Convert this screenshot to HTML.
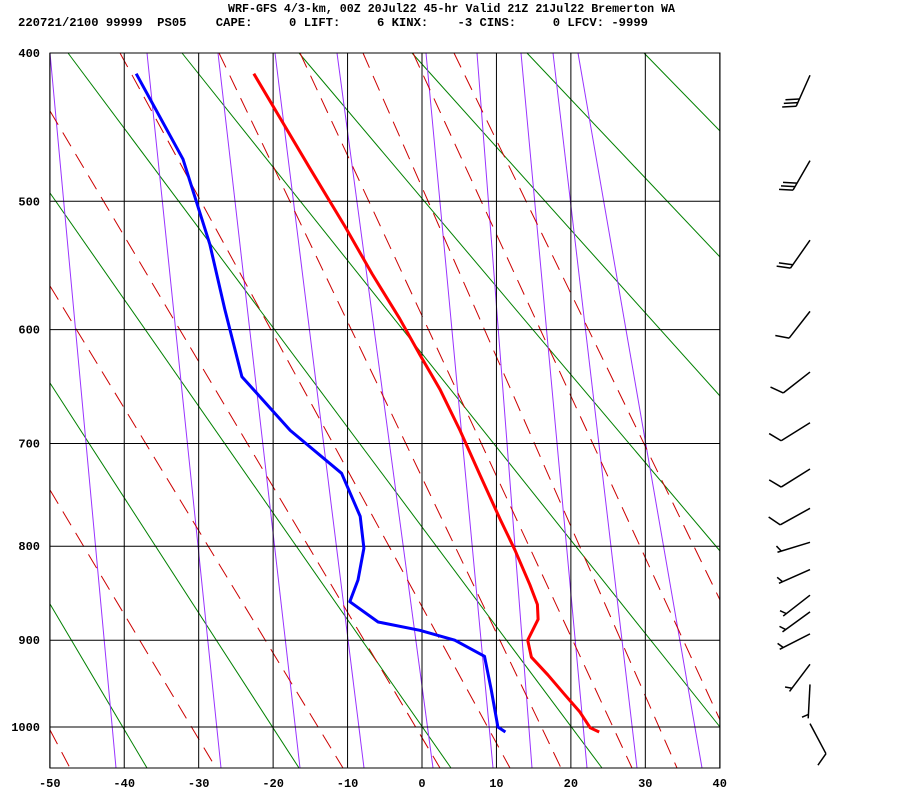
<!DOCTYPE html>
<html><head><meta charset="utf-8"><style>
html,body{margin:0;padding:0;background:#fff;}
svg{display:block;}
text{font-family:"Liberation Mono",monospace;font-weight:bold;}
</style></head><body>
<svg id="chart" width="900" height="800" viewBox="0 0 900 800" xmlns="http://www.w3.org/2000/svg">
<text x="228" y="12" font-size="12" textLength="447" lengthAdjust="spacingAndGlyphs" xml:space="preserve">WRF-GFS 4/3-km, 00Z 20Jul22 45-hr Valid 21Z 21Jul22 Bremerton WA</text>
<text x="18" y="26" font-size="12" textLength="630" lengthAdjust="spacingAndGlyphs" xml:space="preserve">220721/2100 99999  PS05    CAPE:     0 LIFT:     6 KINX:    -3 CINS:     0 LFCV: -9999</text>
<g id="guides"></g>
<g id="grid"></g>
<g id="series"></g>
<g id="winds"></g>
<g id="axes"></g>
</svg>
<script>
const pressureTicks = [400,500,600,700,800,900,1000];
const tempTicks = [-50,-40,-30,-20,-10,0,10,20,30,40];
const tempP = [413,476,519,555,591,621,651,688,730,773,804,840,861,877,900,919,939,962,982,1001,1006];
const tempT = [-22.6,-15.1,-10.3,-6.7,-3.0,-0.3,2.4,5.1,7.8,10.5,12.5,14.5,15.5,15.6,14.2,14.7,16.9,19.2,21.2,22.6,23.8];
const dewP = [413,470,532,583,640,688,728,770,802,835,858,880,889,900,918,956,1000,1006];
const dewT = [-38.4,-32.1,-28.5,-26.5,-24.2,-17.7,-10.8,-8.3,-7.8,-8.6,-9.7,-5.9,-0.3,4.4,8.4,9.3,10.2,11.2];
const windP = [414,471,529,585,636,681,724,762,796,824,851,869,893,927,950,996];
const windDir = [204,210,215,218,232,238,238,241,253,246,232,234,243,217,183,152];
const windSpd = [30,30,20,10,10,10,10,10,5,5,5,5,5,5,5,10];

const NS='http://www.w3.org/2000/svg';
const L=50,R=720,T=53,B=768;
const k=0.286, a400=Math.pow(400,k), a1000=Math.pow(1000,k);
function yOf(p){return T+674*(Math.pow(p,k)-a400)/(a1000-a400);}
function xOf(t){return 422+t*7.444;}
function mk(tag,attrs,parent){const e=document.createElementNS(NS,tag);for(const q in attrs)e.setAttribute(q,attrs[q]);parent.appendChild(e);return e;}
const guides=document.getElementById('guides'),grid=document.getElementById('grid'),series=document.getElementById('series'),winds=document.getElementById('winds'),axes=document.getElementById('axes');

const greens=[[644,53,720,131],[527,53,720,257],[412,53,720,396],[299,53,720,551],[182,53,720,727],[68,53,602,768],[50,193,451,768],[50,383,299,768],[50,604,147,768]];
greens.forEach(g=>{const e=mk('line',{x1:g[0],y1:g[1],x2:g[2],y2:g[3],stroke:'#008000','stroke-width':1},guides);

});
const purples=[[50,116],[147,221],[218,300],[275,364],[337,433],[426,493],[477,532],[521,587],[553,637],[578,702]];
purples.forEach(g=>{const e=mk('line',{x1:g[0],y1:T,x2:g[1],y2:B,stroke:'#9933ff','stroke-width':1},guides);

});
const reds=[[50,730,70,768],[50,490,216,768],[50,286,343,768],[50,111,440,768],[120,53,510,768],[219,53,561,768],[300,53,632,768],[363,53,677,768],[413,53,720,720],[454,53,720,600]];
reds.forEach(g=>{const e=mk('line',{x1:g[0],y1:g[1],x2:g[2],y2:g[3],stroke:'#cc0000','stroke-width':1,'stroke-dasharray':'16,9'},guides);

});

pressureTicks.forEach(p=>{const y=yOf(p);const e=mk('line',{x1:L,y1:y,x2:R,y2:y,stroke:'#000','stroke-width':1},grid);


const t=mk('text',{x:40,y:y+4,'font-size':12,'text-anchor':'end'},axes);t.textContent=p;

});
tempTicks.forEach(v=>{const x=xOf(v);const e=mk('line',{x1:x,y1:T,x2:x,y2:B,stroke:'#000','stroke-width':1},grid);


const t=mk('text',{x:x,y:787,'font-size':12,'text-anchor':'middle'},axes);t.textContent=v;

});
const fr=mk('rect',{x:L,y:T,width:R-L,height:B-T,fill:'none',stroke:'#000','stroke-width':1},axes);



function poly(P,Tv,color,name){const pts=P.map((p,i)=>xOf(Tv[i]).toFixed(1)+','+yOf(p).toFixed(1)).join(' ');
const e=mk('polyline',{points:pts,fill:'none',stroke:color,'stroke-width':3,'stroke-linejoin':'round'},series);

}
poly(tempP,tempT,'#ff0000','temperature-line');
poly(dewP,dewT,'#0000ff','dewpoint-line');

windP.forEach((p,i)=>{const ax=810,ay=yOf(p);const th=windDir[i]*Math.PI/180;const len=34;
const dx=Math.sin(th),dy=-Math.cos(th);
const ex=ax+dx*len,ey=ay+dy*len;
const g=mk('g',{},winds);


mk('line',{x1:ax,y1:ay,x2:ex,y2:ey,stroke:'#000','stroke-width':1.5},g);
const ang=Math.atan2(dy,dx)+63*Math.PI/180;const bx=Math.cos(ang),by=Math.sin(ang);
let s=windSpd[i],pos=0;
while(s>=10){const px=ex-dx*pos*4,py=ey-dy*pos*4;mk('line',{x1:px,y1:py,x2:px+bx*14,y2:py+by*14,stroke:'#000','stroke-width':1.5},g);s-=10;pos++;}
if(s>=5){const q=pos?pos:1;const px=ex-dx*q*4,py=ey-dy*q*4;mk('line',{x1:px,y1:py,x2:px+bx*7,y2:py+by*7,stroke:'#000','stroke-width':1.5},g);}
});
</script>
</body></html>
